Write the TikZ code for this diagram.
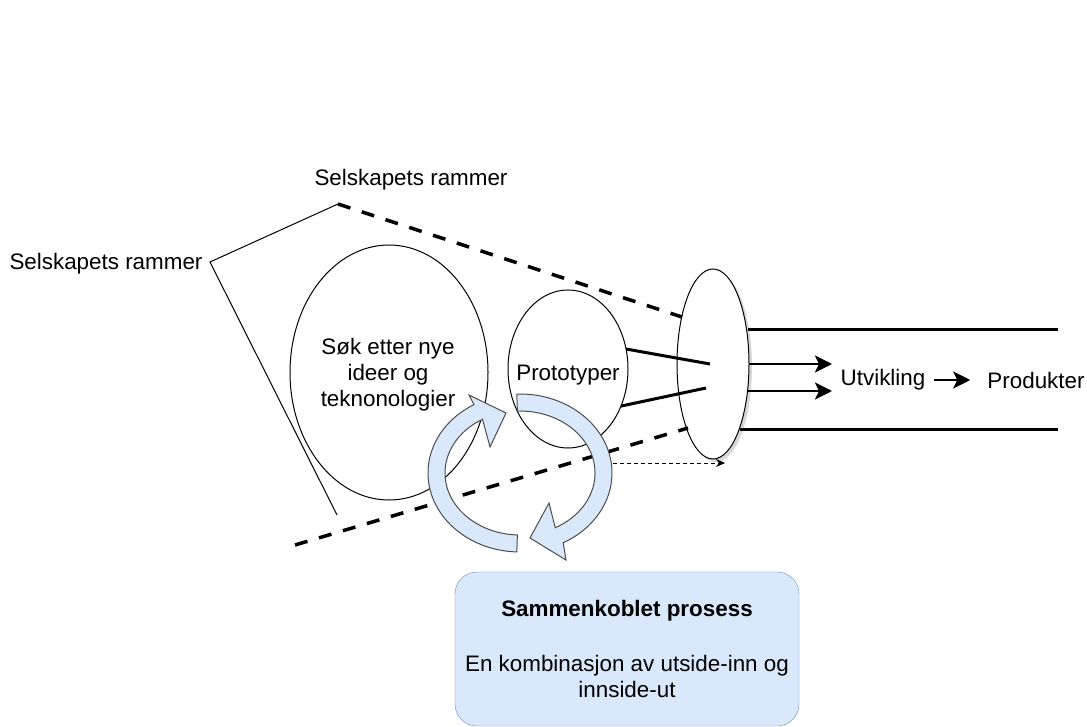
\documentclass[tikz,border=0pt]{standalone}
\usepackage{fontspec}
\setmainfont{Liberation Sans}
\usetikzlibrary{arrows.meta,shapes.geometric,shadows}
\definecolor{loopfill}{HTML}{DAE8FC}
\definecolor{loopline}{HTML}{4D4D4D}
\definecolor{boxline}{HTML}{6C8EBF}

\begin{document}
\begin{tikzpicture}[x=1pt,y=-1pt,
  txt/.style={font=\fontsize{22.4}{26}\selectfont, inner sep=1pt, align=center},
  oval/.style={draw, ellipse, inner sep=0pt, outer sep=0pt, line width=1pt},
  frameline/.style={line width=1pt},
  boundary/.style={line width=3.5pt, dash pattern=on 13pt off 12pt},
  bar/.style={line width=3pt},
  flow/.style={line width=2.8pt, -{Stealth[length=17pt,width=17pt,inset=4pt]}},
  hint/.style={line width=1pt, dash pattern=on 4pt off 3pt, -{Stealth[length=9pt,width=8pt]}},
  loop/.style={fill=loopfill, draw=loopline, line width=1pt, line join=miter},
]
% canvas
\fill[white] (0,0) rectangle (1087,727);
\useasboundingbox (0,0) rectangle (1087,727);

% labels for the company frame
\node[txt] (topl) at (411,180) {Selskapets rammer};
\node[txt] (leftl) at (106,264) {Selskapets rammer};

% idea search and prototypes
\node[oval, minimum width=198pt, minimum height=255pt] (sok) at (389,372.5) {};
\node[txt] (soktxt) at (388,375) {Søk etter nye\\ideer og\\teknonologier};
\node[oval, minimum width=120pt, minimum height=158pt] (proto) at (568,369) {};
\node[txt] (prototxt) at (568,375) {Prototyper};

% the gate into development
\node[oval, fill=white, minimum width=72pt, minimum height=190pt,
      drop shadow={shadow xshift=3pt, shadow yshift=-3pt, opacity=0.3}] (gate) at (713,364) {};

% frame lines
\coordinate (apex) at (210,262);
\coordinate (ft) at (338,204);
\coordinate (fb) at (337,515);
\coordinate (gt) at (682,317);
\coordinate (gb) at (688,428);
\coordinate (dl) at (295,545);
\draw[frameline] (ft) -- (apex) -- (fb);
\draw[boundary] (ft) -- (gt);
\draw[boundary] (dl) -- (gb);

% prototypes passing through the gate
\coordinate (b1) at (710,364);
\coordinate (b2) at (706,388);
\draw[bar] (proto.19) -- (b1);
\draw[bar] (proto.-35) -- (b2);

% development channel
\coordinate (h1s) at (748,330);
\coordinate (h1e) at (1058,330);
\coordinate (h2s) at (740,429);
\coordinate (h2e) at (1058,429);
\draw[bar] (h1s) -- (h1e);
\draw[bar] (h2s) -- (h2e);

\node[txt] (utv) at (883,380) {Utvikling};
\node[txt] (prod) at (1036,380) {Produkter};
\coordinate (f1s) at (749,364);
\coordinate (f1e) at (832,364);
\coordinate (f2s) at (748,391);
\coordinate (f2e) at (832,391);
\draw[flow] (f1s) -- (f1e);
\draw[flow] (f2s) -- (f2e);
\draw[flow, shorten <=7pt, shorten >=16pt] (utv.east) -- (prod.west);

% leak out of the loop
\coordinate (ls) at (613,463);
\coordinate (le) at (725,463);
\draw[hint] (ls) -- (le);

% circular arrows of the combined process
\coordinate (C) at (520,473);
\draw[loop] ([shift={(92:92 and 79)}]C)
  arc[start angle=92, end angle=240, x radius=92, y radius=79]
  -- (469,395) -- (506,413) -- (490,447)
  -- ([shift={(240:75 and 62)}]C)
  arc[start angle=240, end angle=92, x radius=75, y radius=62] -- cycle;
\draw[loop] ([shift={(268:92 and 79)}]C)
  arc[start angle=268, end angle=422, x radius=92, y radius=79]
  -- (566,560) -- (530,538) -- (549,503)
  -- ([shift={(422:75 and 62)}]C)
  arc[start angle=422, end angle=268, x radius=75, y radius=62] -- cycle;

% description box
\node[txt, draw=boxline, fill=loopfill, rounded corners=22pt, inner sep=0pt,
      minimum width=344pt, minimum height=154pt] (proc) at (627,649)
  {\textbf{Sammenkoblet prosess}\\[29pt]En kombinasjon av utside-inn og\\innside-ut};
\end{tikzpicture}
\end{document}
